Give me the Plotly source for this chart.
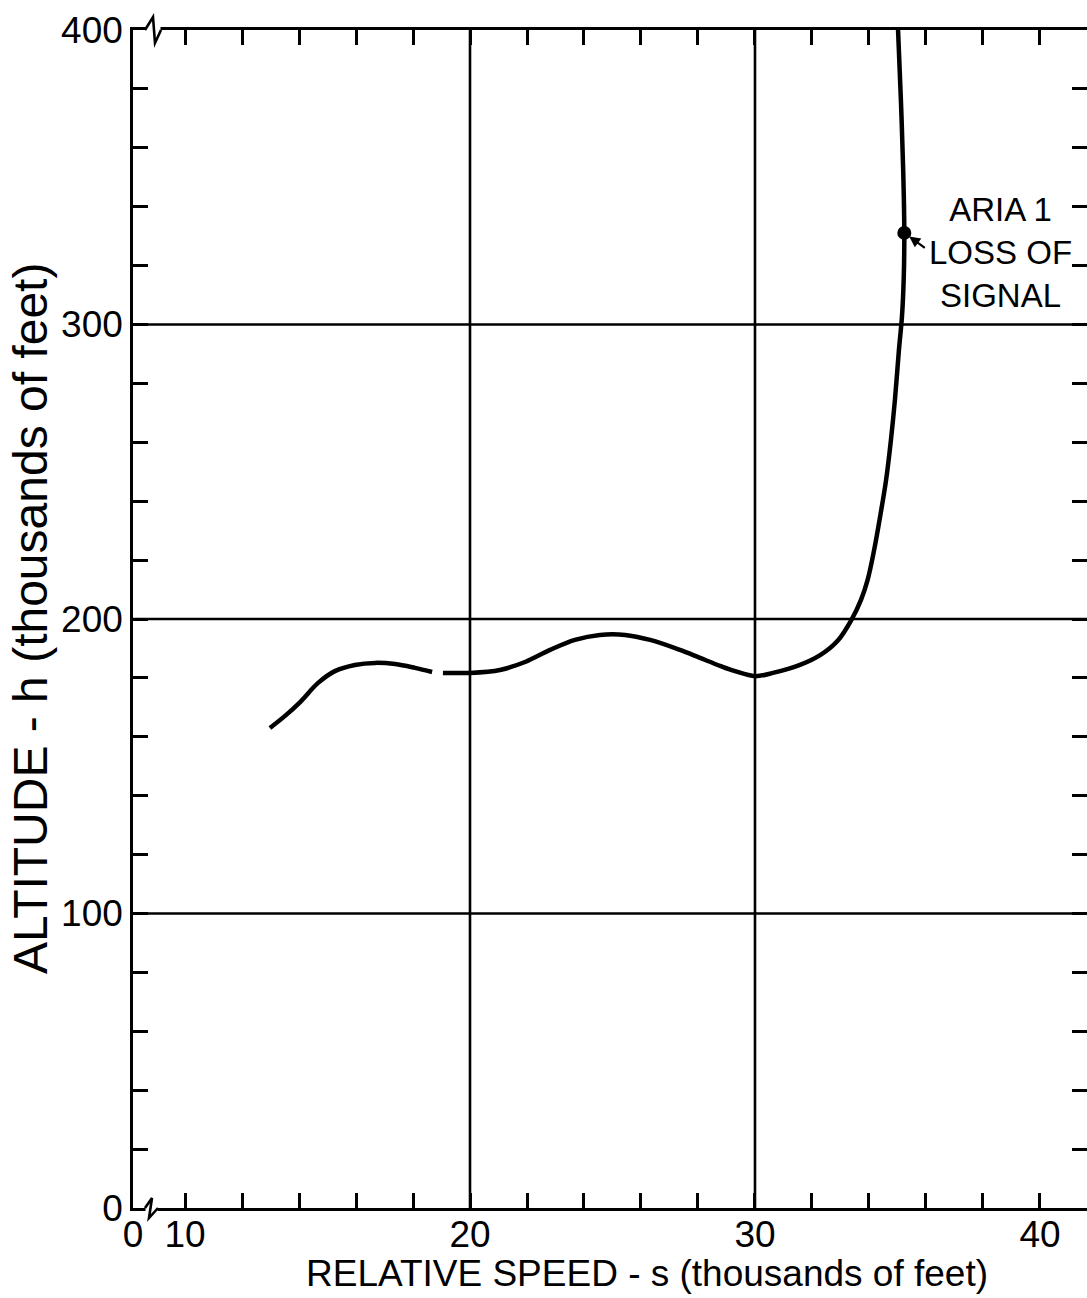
import plotly.graph_objects as go

# ---------------- data ----------------
SPEED = [12.98, 13.51, 14.04, 14.67, 15.26, 15.96, 16.67, 17.37, 18.07, 18.67, None,
         19.05, 20.0, 21.05, 21.93, 22.81, 23.68, 24.56, 25.44, 26.32, 27.37, 28.07,
         28.8, 29.3, 30.0, 30.63, 31.58, 32.30, 32.90, 33.40, 33.72, 33.95, 34.18,
         34.40, 34.60, 34.77, 34.91, 35.05, 35.16, 35.22, 35.24, 35.20, 35.12, 35.02]
ALTITUDE = [163.0, 167.1, 171.8, 178.3, 182.3, 184.4, 185.1, 184.7, 183.4, 182.0, None,
            181.7, 181.7, 182.7, 185.4, 189.5, 192.9, 194.6, 194.6, 192.9, 189.5, 186.8,
            184.0, 182.3, 180.6, 181.7, 184.4, 187.8, 192.6, 200.0, 206.5, 213.2, 223.4,
            235.3, 247.2, 260.8, 274.4, 291.3, 303.0, 316.0, 331.1, 352.5, 376.2, 400.0]

LOS_SPEED = [35.24]
LOS_ALT = [331.1]
LOS_TEXT = "ARIA 1<br>LOSS OF<br>SIGNAL"

X_MIN, X_MAX = 8.175, 41.65
Y_MIN, Y_MAX = 0, 400
X_TICKS = [X_MIN, 10, 20, 30, 40]
X_TICKTEXT = ["0", "10", "20", "30", "40"]
Y_TICKS = [0, 100, 200, 300, 400]
Y_TICKTEXT = ["0", "100", "200", "300", "400"]
GRID_X = [20, 30]
GRID_Y = [100, 200, 300]
X_TITLE = "RELATIVE SPEED - s (thousands of feet)"
Y_TITLE = "ALTITUDE - h (thousands of feet)"

# ---------------- layout constants ----------------
W, H = 1087, 1298
ML, MR, MT, MB = 133, 0, 30, 90
PW, PH = W - ML - MR, H - MT - MB
FONT = "Liberation Sans, Arial, sans-serif"
BLACK = "#000000"
LW = 2.6


def px_to_paper_x(dx):
    return dx / PW


def px_to_paper_y(dy):
    return dy / PH


fig = go.Figure()

fig.add_trace(go.Scatter(
    x=SPEED, y=ALTITUDE, mode="lines",
    line=dict(color=BLACK, width=4.5, shape="spline", smoothing=1.0),
    connectgaps=False, showlegend=False, hoverinfo="skip"))

fig.add_trace(go.Scatter(
    x=LOS_SPEED, y=LOS_ALT, mode="markers",
    marker=dict(color=BLACK, size=14), showlegend=False, hoverinfo="skip"))

# invisible trace on the right-hand tick axis
fig.add_trace(go.Scatter(x=[None], y=[None], yaxis="y2", showlegend=False,
                         hoverinfo="skip"))

shapes = []
for gx in GRID_X:
    shapes.append(dict(type="line", xref="x", yref="paper", x0=gx, x1=gx, y0=0, y1=1,
                       line=dict(color=BLACK, width=LW), layer="below"))
for gy in GRID_Y:
    shapes.append(dict(type="line", xref="paper", yref="y", x0=0, x1=1, y0=gy, y1=gy,
                       line=dict(color=BLACK, width=LW), layer="below"))

# axis break symbols on the bottom and top axis lines
bx = px_to_paper_x(12)
for base, pts in (
        (0.0, [(0, 0), (7, 10), (4, -10), (13, 0)]),
        (1.0, [(0, 0), (8, 13), (10, -13), (16, 0)])):
    x0 = bx + px_to_paper_x(pts[0][0])
    x1 = bx + px_to_paper_x(pts[-1][0])
    shapes.append(dict(type="rect", xref="paper", yref="paper",
                       x0=x0 + px_to_paper_x(0.5), x1=x1 - px_to_paper_x(0.5),
                       y0=base - px_to_paper_y(3), y1=base + px_to_paper_y(3),
                       fillcolor="white", line=dict(width=0), layer="above"))
    path = "M " + " L ".join(
        f"{bx + px_to_paper_x(dx):.5f},{base + px_to_paper_y(dy):.5f}" for dx, dy in pts)
    shapes.append(dict(type="path", xref="paper", yref="paper", path=path,
                       line=dict(color=BLACK, width=LW), layer="above"))

annotations = [
    dict(x=LOS_SPEED[0], y=LOS_ALT[0], xref="x", yref="y", text="", showarrow=True,
         ax=22, ay=16, arrowhead=2, arrowsize=1, arrowwidth=2.2, arrowcolor=BLACK,
         standoff=6),
    dict(x=38.6, y=324.3, xref="x", yref="y", text=LOS_TEXT, showarrow=False,
         align="center", xanchor="center", yanchor="middle",
         font=dict(family=FONT, size=33, color=BLACK)),
    dict(x=px_to_paper_x(647 - ML), y=-px_to_paper_y(1273 - (H - MB)), xref="paper",
         yref="paper", text=X_TITLE, showarrow=False, xanchor="center", yanchor="middle",
         font=dict(family=FONT, size=37, color=BLACK)),
    dict(x=-px_to_paper_x(ML - 30), y=0.5, xref="paper", yref="paper", text=Y_TITLE,
         showarrow=False, textangle=-90, xanchor="center", yanchor="middle",
         font=dict(family=FONT, size=48, color=BLACK)),
]

axis_common = dict(
    showgrid=False, zeroline=False, showline=True, linecolor=BLACK, linewidth=LW,
    ticks="inside", ticklen=15, tickwidth=LW, tickcolor=BLACK,
    tickfont=dict(family=FONT, size=37, color=BLACK),
)

fig.update_layout(
    width=W, height=H, margin=dict(l=ML, r=MR, t=MT, b=MB, pad=0),
    paper_bgcolor="white", plot_bgcolor="white",
    xaxis=dict(range=[X_MIN, X_MAX], tickvals=X_TICKS, ticktext=X_TICKTEXT,
               mirror="ticks", ticklabelstandoff=-8,
               minor=dict(dtick=2, tick0=0, ticks="inside", ticklen=15, tickwidth=LW,
                          tickcolor=BLACK, showgrid=False),
               **axis_common),
    yaxis=dict(range=[Y_MIN, Y_MAX], tickvals=Y_TICKS, ticktext=Y_TICKTEXT,
               minor=dict(dtick=20, tick0=0, ticks="inside", ticklen=15, tickwidth=LW,
                          tickcolor=BLACK, showgrid=False),
               **axis_common),
    yaxis2=dict(range=[Y_MIN, Y_MAX], overlaying="y", side="right", showline=False,
                showgrid=False, zeroline=False, showticklabels=False,
                tickvals=Y_TICKS, ticks="inside", ticklen=15, tickwidth=LW,
                tickcolor=BLACK,
                minor=dict(dtick=20, tick0=0, ticks="inside", ticklen=15,
                           tickwidth=LW, tickcolor=BLACK, showgrid=False)),
    shapes=shapes, annotations=annotations, showlegend=False,
)

fig.write_html("out.html")
